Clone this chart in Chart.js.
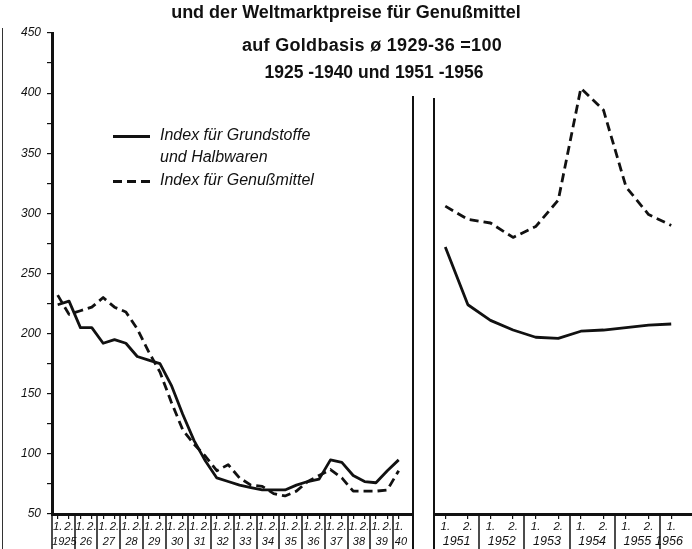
<!DOCTYPE html>
<html><head><meta charset="utf-8">
<script src="https://cdn.jsdelivr.net/npm/chart.js@4"></script>
<style>
html,body{margin:0;padding:0;background:#fff;}
#wrap{position:relative;width:692px;height:549px;overflow:hidden;background:#fff;}
canvas{position:absolute;top:0;}
.t{position:absolute;font-family:"Liberation Sans",Arial,sans-serif;font-weight:bold;color:#111;white-space:nowrap;transform:translateX(-50%);line-height:20px;}
.lg{position:absolute;font-family:"Liberation Sans",Arial,sans-serif;font-style:italic;font-size:16px;color:#111;white-space:nowrap;line-height:20px;}
.solid{position:absolute;height:3px;background:#111;}
.dash{position:absolute;height:3px;background:repeating-linear-gradient(90deg,#111 0 9px,transparent 9px 14px);}
</style></head>
<body>
<div id="wrap">
  <canvas id="cL" width="420" height="549" style="left:0"></canvas>
  <canvas id="cR" width="272" height="549" style="left:420px"></canvas>
  <div class="t" style="left:346px;top:2px;font-size:18px;">und der Weltmarktpreise für Genußmittel</div>
  <div class="t" style="left:372px;top:35px;font-size:18px;letter-spacing:0.3px;">auf Goldbasis ø 1929-36 =100</div>
  <div class="t" style="left:374px;top:62px;font-size:17.5px;">1925 -1940 und 1951 -1956</div>
  <div class="solid" style="left:113px;top:135px;width:37px;"></div>
  <div class="lg" style="left:160px;top:125px;">Index für Grundstoffe</div>
  <div class="lg" style="left:160px;top:147px;">und Halbwaren</div>
  <div class="dash" style="left:113px;top:180px;width:37px;"></div>
  <div class="lg" style="left:160px;top:170px;">Index für Genußmittel</div>
  <div style="position:absolute;left:2px;top:28px;height:521px;border-left:1.5px solid #333;"></div>
</div>
<script>
// ---- data ----
const leftYears = [1925,1926,1927,1928,1929,1930,1931,1932,1933,1934,1935,1936,1937,1938,1939,1940];
const leftYearLabels = ["1925","26","27","28","29","30","31","32","33","34","35","36","37","38","39","40"];
const halfLabels = ["1.","2."];
// half-year values 1925/1 ... 1940/1
const grundstoffeLeft = [224,227,205,205,192,195,192,181,178,175,157,133,111,94,80,77,74,72,70,70,70,74,77,79,95,93,82,77,76,86,95];
const genussmittelLeft = [232,216,219,222,230,222,218,204,185,168,143,120,108,98,86,91,80,74,73,67,65,69,77,82,87,80,69,69,69,70,86];

const rightYears = [1951,1952,1953,1954,1955,1956];
const rightYearLabels = ["1951","1952","1953","1954","1955","1956"];
// half-year values 1951/1 ... 1956/1
const grundstoffeRight = [272,224,211,203,197,196,202,203,205,207,208];
const genussmittelRight = [306,295,292,280,289,311,404,386,322,299,290];

const yTicks = [50,100,150,200,250,300,350,400,450];

// ---- helpers ----
function halfPositions(startYear, n){
  const out=[];
  for(let i=0;i<n;i++){ out.push(startYear + Math.floor(i/2) + (i%2===0?0.25:0.75)); }
  return out;
}
const posL = halfPositions(leftYears[0], grundstoffeLeft.length);
const posR = halfPositions(rightYears[0], grundstoffeRight.length);
const toXY = (pos, vals) => vals.map((v,i)=>({x:pos[i], y:v}));

const INK = '#111';
const FAM = '"Liberation Sans", Arial, sans-serif';
const tickFont = {family:FAM, style:'italic', size:11.5};
const yFont = {family:FAM, style:'italic', size:12};
const yearFontL = {family:FAM, style:'italic', size:11};
const yearFontR = {family:FAM, style:'italic', size:12.5};

const deco = {
  id:'deco',
  afterDraw(chart, args, opts){
    const ctx = chart.ctx, ca = chart.chartArea, xs = chart.scales.x;
    const H = chart.height;
    ctx.save();
    ctx.strokeStyle = INK;
    ctx.lineWidth = 1.5;
    opts.years.forEach(y=>{
      const px = Math.round(xs.getPixelForValue(y));
      ctx.beginPath(); ctx.moveTo(px, ca.bottom); ctx.lineTo(px, H); ctx.stroke();
    });
    if(opts.border){
      const px = opts.border==='right' ? ca.right : ca.left;
      ctx.lineWidth = 2;
      ctx.beginPath(); ctx.moveTo(px, opts.borderTop); ctx.lineTo(px, H); ctx.stroke();
    }
    ctx.restore();
  }
};

function xAxes(min, max, pos, yearPos, yearLabels, yearFont, yearPad){
  return {
    x:{
      type:'linear', min:min, max:max, position:'bottom', weight:0,
      afterBuildTicks: s => { s.ticks = pos.map(v=>({value:v})); },
      afterFit: s => { s.height = 19; },
      ticks:{ autoSkip:false, maxRotation:0, color:INK, font:tickFont, padding:1,
        callback:(v)=> halfLabels[(Math.round((v - Math.floor(v))*4)===1)?0:1] },
      grid:{ drawOnChartArea:false, drawTicks:true, tickLength:5, color:INK, lineWidth:1.2 },
      border:{ color:INK, width:3 }
    },
    x2:{
      type:'linear', min:min, max:max, position:'bottom', weight:1,
      afterBuildTicks: s => { s.ticks = yearPos.map(v=>({value:v})); },
      afterFit: s => { s.height = 16; },
      ticks:{ autoSkip:false, maxRotation:0, color:INK, font:yearFont, padding:yearPad,
        callback:(v,i)=> yearLabels[i] },
      grid:{ display:false, drawTicks:false, tickLength:0 },
      border:{ display:false }
    }
  };
}

const lineDs = (label, data, dash) => ({
  label, data, borderColor:INK, borderWidth:2.8, borderDash:dash, pointRadius:0,
  tension:0, fill:false, borderCapStyle:'butt', borderJoinStyle:'round'
});

// ---- left chart ----
const leftMax = 1940.88;
const yearPosL = leftYears.map((y,i)=> i===0 ? y+0.54 : (i===leftYears.length-1 ? y+0.35 : y+0.5));
const axesL = xAxes(1925, leftMax, posL, yearPosL, leftYearLabels, yearFontL, 2);
axesL.y = {
  type:'linear', min:50, max:450, position:'left',
  afterBuildTicks: s => { const t=[]; for(let v=50; v<=450; v+=25) t.push({value:v}); s.ticks=t; },
  afterFit: s => { s.width = 52; },
  ticks:{ color:INK, font:yFont, padding:6, callback:(v)=> yTicks.includes(v) ? String(v) : '' },
  grid:{ drawOnChartArea:false, drawTicks:true, tickLength:5, color:INK, lineWidth:1.2 },
  border:{ color:INK, width:3 }
};
new Chart(document.getElementById('cL'), {
  type:'line',
  data:{ datasets:[
    lineDs('Index für Grundstoffe und Halbwaren', toXY(posL, grundstoffeLeft), []),
    lineDs('Index für Genußmittel', toXY(posL, genussmittelLeft), [9,5])
  ]},
  options:{
    responsive:false, animation:false, devicePixelRatio:1,
    layout:{ autoPadding:false, padding:{left:0, right:7, top:33, bottom:0} },
    scales: axesL,
    plugins:{ legend:{display:false}, tooltip:{enabled:false}, title:{display:false},
      deco:{ years: leftYears, border:'right', borderTop:96 } }
  },
  plugins:[deco]
});

// ---- right chart ----
const rightMax = 1956.71;
const yearPosR = rightYears.map((y,i)=> i===rightYears.length-1 ? y+0.2 : y+0.5);
const axesR = xAxes(1951, rightMax, posR, yearPosR, rightYearLabels, yearFontR, 1);
axesR.y = { type:'linear', min:50, max:450, display:false };
new Chart(document.getElementById('cR'), {
  type:'line',
  data:{ datasets:[
    lineDs('Index für Grundstoffe und Halbwaren', toXY(posR, grundstoffeRight), []),
    lineDs('Index für Genußmittel', toXY(posR, genussmittelRight), [9,5])
  ]},
  options:{
    responsive:false, animation:false, devicePixelRatio:1,
    layout:{ autoPadding:false, padding:{left:14, right:0, top:33, bottom:0} },
    scales: axesR,
    plugins:{ legend:{display:false}, tooltip:{enabled:false}, title:{display:false},
      deco:{ years: rightYears, border:'left', borderTop:98 } }
  },
  plugins:[deco]
});
</script>
</body></html>
